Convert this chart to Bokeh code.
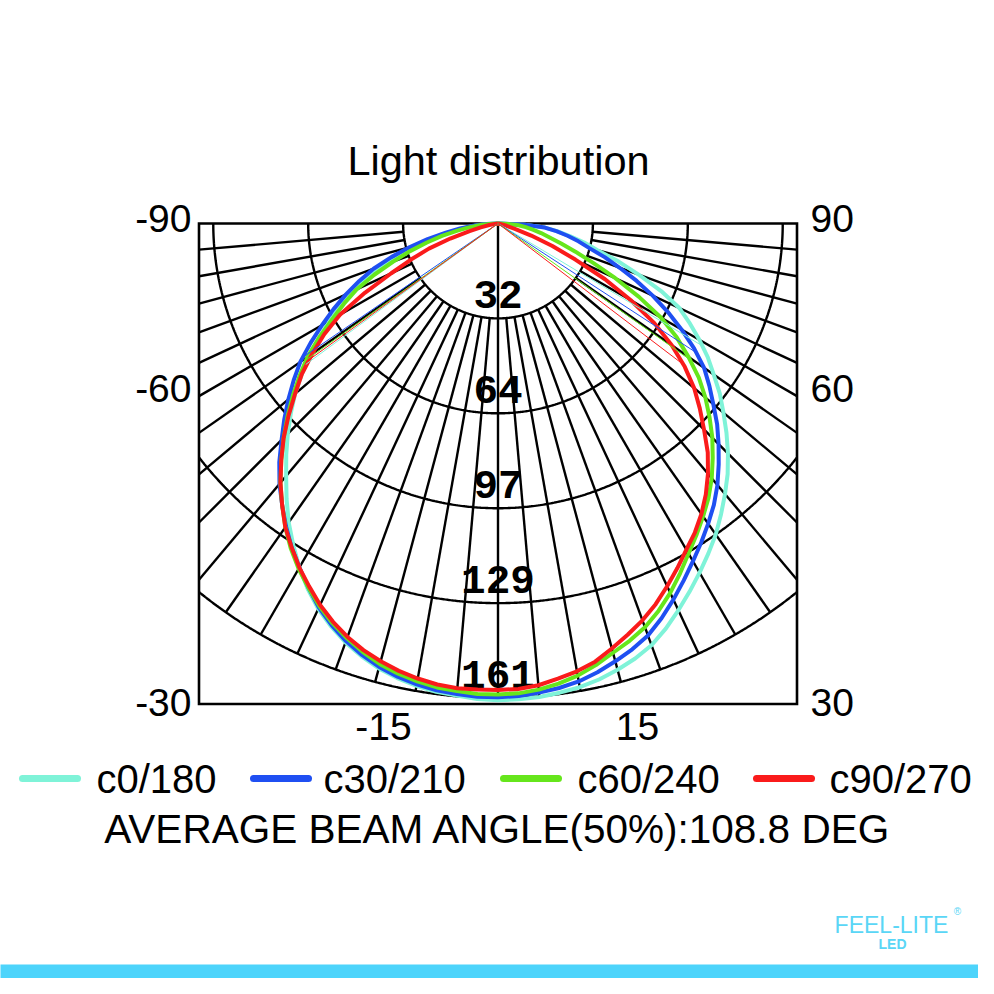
import numpy as np
from bokeh.plotting import figure
from bokeh.models import Range1d
from bokeh.core.properties import value
from bokeh.embed import file_html
from bokeh.resources import INLINE

# ---------------- data (candela vs. gamma angle, 2.5 deg steps, left half negative) ----------------
angles_deg = [-90, -87.5, -85, -82.5, -80, -77.5, -75, -72.5, -70, -67.5, -65, -62.5, -60, -57.5, -55,
              -52.5, -50, -47.5, -45, -42.5, -40, -37.5, -35, -32.5, -30, -27.5, -25, -22.5, -20,
              -17.5, -15, -12.5, -10, -7.5, -5, -2.5, 0, 2.5, 5, 7.5, 10, 12.5, 15, 17.5, 20, 22.5,
              25, 27.5, 30, 32.5, 35, 37.5, 40, 42.5, 45, 47.5, 50, 52.5, 55, 57.5, 60, 62.5, 65,
              67.5, 70, 72.5, 75, 77.5, 80, 82.5, 85, 87.5, 90]

c0_180 = [0, 3.5, 7, 11.5, 16, 22, 28, 34.5, 41, 47.5, 54, 60, 66, 72, 78, 84, 90, 95.5, 101, 106.5,
          112, 118, 124, 129.5, 135, 140, 144.5, 148.2, 151.5, 154.2, 156.5, 158.2, 159.5, 160.5, 161,
          161.7, 162, 161.8, 161.5, 160.8, 160, 158.7, 157, 155, 152.5, 149, 145, 141, 137, 133, 129,
          124.5, 120, 115.5, 110.5, 105.3, 100, 95, 89.5, 84.5, 79, 73.5, 68, 60, 51, 43, 35, 30, 25,
          20.5, 16, 9, 0]
c30_210 = [0, 4, 8, 13, 18, 24.5, 31, 38, 45, 51, 57, 63, 69, 75.5, 82, 87.5, 93, 98.5, 104, 110,
           115.5, 120.5, 125.6, 130.5, 135, 139.5, 144, 147.7, 151, 153.7, 156, 157.7, 159, 160, 160.5,
           161, 161, 160.7, 160, 159.2, 158, 156.2, 154, 151.7, 149, 145.2, 141, 136.7, 132.5, 128.5,
           124.5, 120.5, 116, 111, 106, 101, 95.5, 90.5, 85.5, 79, 72, 65, 58, 51, 44, 38, 32, 28, 24,
           20, 16, 9, 0]
c60_240 = [0, 3, 6, 10, 14, 19.5, 25, 31.5, 38, 45.5, 53, 59, 65, 72, 79, 85, 91, 97, 103, 109, 115,
           120.5, 126, 131, 135.5, 139.5, 143.5, 147, 150, 152.7, 155, 156.7, 158, 159, 159.5, 160,
           160, 159.8, 159, 157.7, 156, 153.7, 151, 148.7, 146, 142.5, 138.5, 134, 129.5, 125.5, 121.5,
           117.5, 113, 108, 103, 97.5, 92, 86, 79, 72, 64, 54, 44, 35, 28, 22.5, 18, 15, 12, 9.5, 7,
           3.5, 0]
c90_270 = [0, 0, 0, 1, 3, 6, 10, 17, 25, 32, 40, 51, 62, 70, 77, 84, 90, 96.5, 103, 109, 115, 120.5,
           126, 130.5, 135, 139, 143, 146.5, 149.5, 152, 154, 155.7, 157, 158, 158.5, 158.5, 158.5,
           158.3, 157.5, 156, 154.5, 152.5, 149.5, 146.5, 143.5, 140, 136, 132, 128, 124.5, 120.5, 116,
           111, 105.5, 99, 93, 87, 80, 72, 63, 52, 41, 29, 20, 12, 6, 3, 1, 0, 0, 0, 0, 0]

series_names = ["c0/180", "c30/210", "c60/240", "c90/270"]
series_values = [c0_180, c30_210, c60_240, c90_270]
series_colors = ["#7ff3d8", "#1f4ff2", "#66e61c", "#fa1b1b"]

ring_values = [32.25, 64.5, 96.75, 129.0, 161.25]
ring_labels = ["32", "64", "97", "129", "161"]
radial_step_deg = 5

left_tick_labels = ["-90", "-60", "-30"]
right_tick_labels = ["90", "60", "30"]
bottom_tick_labels = ["-15", "15"]

title_text = "Light distribution"
beam_text = "AVERAGE BEAM ANGLE(50%):108.8  DEG"

# ---------------- layout (picture pixels -> data units) ----------------
PX = 2.943             # pixels per cd
CX, CY = 497.5, 223.0  # picture position of the polar origin


def X(px):
    return (px - CX) / PX


def Y(py):
    return (CY - py) / PX


BOX_HALF_W = X(796.5)
BOX_DEPTH = -Y(703.5)

p = figure(width=978, height=978, x_range=Range1d(X(0), X(978)), y_range=Range1d(Y(978), Y(0)),
           output_backend="svg", toolbar_location=None, min_border=0,
           x_axis_location=None, y_axis_location=None)
p.grid.visible = False
p.outline_line_color = None
p.background_fill_color = "white"
p.border_fill_color = "white"

# ---------------- polar grid ----------------
arc_xs, arc_ys = [], []
for r in ring_values:
    tmax = np.pi / 2
    if r > BOX_HALF_W:
        tmax = min(tmax, np.arcsin(BOX_HALF_W / r))
    t = np.linspace(-tmax, tmax, 500)
    arc_xs.append(list(r * np.sin(t)))
    arc_ys.append(list(-r * np.cos(t)))
p.multi_line(arc_xs, arc_ys, line_color="black", line_width=2.4)

rad_xs, rad_ys = [], []
for a in range(-90 + radial_step_deg, 90, radial_step_deg):
    t = np.radians(a)
    r0 = 0.0 if a == 0 else ring_values[0]
    r1 = ring_values[-1]
    if abs(np.sin(t)) > 1e-9:
        r1 = min(r1, BOX_HALF_W / abs(np.sin(t)))
    r1 = min(r1, BOX_DEPTH / np.cos(t))
    if r1 > r0:
        rad_xs.append([r0 * np.sin(t), r1 * np.sin(t)])
        rad_ys.append([-r0 * np.cos(t), -r1 * np.cos(t)])
p.multi_line(rad_xs, rad_ys, line_color="black", line_width=2.4)

# box
p.quad(left=[-BOX_HALF_W], right=[BOX_HALF_W], top=[0], bottom=[-BOX_DEPTH],
       fill_color=None, line_color="black", line_width=2.6, line_join="miter")

# ring labels
p.text(x=[0] * len(ring_values), y=[-r + 24 / PX for r in ring_values], text=ring_labels,
       text_font=value("Liberation Mono"), text_font_style="bold", text_font_size="41px",
       text_align="center", text_baseline="middle", text_color="black")

# ---------------- curves ----------------
ang = np.radians(np.array(angles_deg, dtype=float))
for name, vals, col in zip(series_names, series_values, series_colors):
    v = np.array(vals, dtype=float)
    p.line(v * np.sin(ang), -v * np.cos(ang), line_color=col, line_width=4, line_join="round")

# beam-angle markers (50% of max intensity)
a_deg = np.array(angles_deg, dtype=float)
mid = angles_deg.index(0)
for vals, col in zip(series_values, series_colors):
    v = np.array(vals, dtype=float)
    half = 0.5 * v.max()
    for side in (1, -1):
        if side == 1:
            aa, vv = a_deg[mid:], v[mid:]
        else:
            aa, vv = -a_deg[:mid + 1][::-1], v[:mid + 1][::-1]
        th = np.interp(half, vv[::-1], aa[::-1])
        t = np.radians(th)
        p.line([0, side * half * np.sin(t)], [0, -half * np.cos(t)], line_color=col, line_width=1)

# ---------------- texts ----------------
FONT = value("Liberation Sans")
p.text(x=[X(498)], y=[Y(160)], text=[title_text], text_font=FONT, text_font_size="41.5px",
       text_align="center", text_baseline="middle", text_color="black")

p.text(x=[X(191)] * 3, y=[Y(218), Y(388), Y(702)], text=left_tick_labels, text_font=FONT,
       text_font_size="39px", text_align="right", text_baseline="middle", text_color="black")
p.text(x=[X(810)] * 3, y=[Y(218), Y(388), Y(702)], text=right_tick_labels, text_font=FONT,
       text_font_size="39px", text_align="left", text_baseline="middle", text_color="black")
p.text(x=[X(383), X(637)], y=[Y(726)] * 2, text=bottom_tick_labels, text_font=FONT,
       text_font_size="39px", text_align="center", text_baseline="middle", text_color="black")

# legend
leg_line_x0 = [22, 253, 503, 756]
leg_text_x = [96, 323, 577, 829]
LEG_Y = 778
p.segment(x0=[X(v) for v in leg_line_x0], y0=[Y(LEG_Y)] * 4,
          x1=[X(v + 55) for v in leg_line_x0], y1=[Y(LEG_Y)] * 4,
          line_color=series_colors, line_width=7, line_cap="round")
p.text(x=[X(v) for v in leg_text_x], y=[Y(LEG_Y)] * 4, text=series_names, text_font=FONT,
       text_font_size="40px", text_align="left", text_baseline="middle", text_color="black")

p.text(x=[X(503)], y=[Y(828)], text=[beam_text], text_font=FONT, text_font_size="40.5px",
       text_align="center", text_baseline="middle", text_color="black")

# logo + bottom stripe
p.quad(left=[X(-10)], right=[X(1000)], top=[Y(964)], bottom=[Y(1000)],
       fill_color="#4dd4fb", line_color=None)
p.text(x=[X(891)], y=[Y(924)], text=["FEEL-LITE"], text_font=FONT, text_font_size="23px",
       text_align="center", text_baseline="middle", text_color="#5ad6f6")
p.text(x=[X(892)], y=[Y(943)], text=["LED"], text_font=FONT, text_font_style="bold",
       text_font_size="14px", text_align="center", text_baseline="middle", text_color="#5ad6f6")
p.text(x=[X(957)], y=[Y(911)], text=["®"], text_font=FONT, text_font_size="10px",
       text_align="center", text_baseline="middle", text_color="#5ad6f6")

open("out.html", "w").write(file_html(p, INLINE))
